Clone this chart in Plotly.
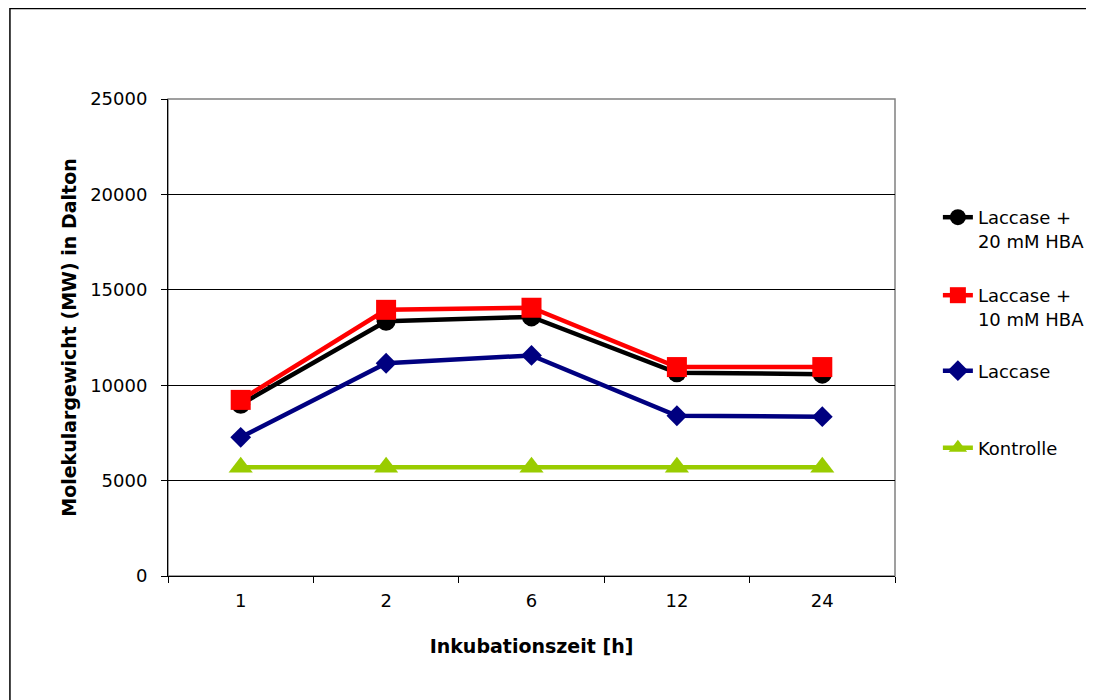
import plotly.graph_objects as go

categories = ["1", "2", "6", "12", "24"]
hba20 = [9000, 13350, 13580, 10650, 10580]
hba10 = [9230, 13950, 14060, 10950, 10950]
laccase = [7270, 11150, 11560, 8400, 8350]
kontrolle = [5700, 5700, 5700, 5700, 5700]

names = ["Laccase +<br>20 mM HBA", "Laccase +<br>10 mM HBA", "Laccase", "Kontrolle"]
colors = ["#000000", "#FF0000", "#000080", "#99CC00"]
symbols = ["circle", "square", "diamond", "triangle-up"]
sizes = [19, 20, 16, 21]
series = [hba20, hba10, laccase, kontrolle]
legends = ["legend", "legend2", "legend3", "legend4"]

FONT = "DejaVu Sans, Verdana, sans-serif"
FS = 18
FT = 19

fig = go.Figure()
for vals, nm, c, s, sz, lg in zip(series, names, colors, symbols, sizes, legends):
    fig.add_trace(go.Scatter(
        x=categories, y=vals, name=nm, mode="lines+markers",
        line=dict(color=c, width=4.5),
        marker=dict(color=c, symbol=s, size=sz, line=dict(width=0)),
        legend=lg, showlegend=True,
    ))

OFF = 8  # page body margin
W, H = 1094, 700
PL, PR, PT, PB = 168, 897, 99, 576  # plot area in screen px
L = PL - OFF
T = PT - OFF
pw = PR - PL
ph = PB - PT
R = W - L - pw
B = H - T - ph

def px2x(px):
    return (px - PL) / pw

def py2y(py):
    return (PB - py) / ph

leg_x = px2x(940)
leg_common = dict(x=leg_x, xanchor="left", yanchor="middle", valign="top",
                  bgcolor="rgba(0,0,0,0)", borderwidth=0,
                  font=dict(family=FONT, size=FS, color="#000000"))

fig.update_layout(
    width=W, height=H,
    margin=dict(l=L, r=R, t=T, b=B),
    paper_bgcolor="white", plot_bgcolor="white",
    showlegend=True,
    font=dict(family=FONT, size=FS, color="#000000"),
    legend=dict(y=py2y(229), **leg_common),
    legend2=dict(y=py2y(307), **leg_common),
    legend3=dict(y=py2y(371), **leg_common),
    legend4=dict(y=py2y(448), **leg_common),
    xaxis=dict(
        type="category", range=[-0.5, 4.5], tickson="boundaries",
        ticks="outside", ticklen=6, tickcolor="#000000",
        showline=True, linecolor="#000000", linewidth=1,
        showgrid=False, zeroline=False,
        tickfont=dict(family=FONT, size=FS),
        ticklabelstandoff=8,
        title=dict(text="<b>Inkubationszeit [h]</b>", font=dict(family=FONT, size=FT), standoff=30),
    ),
    yaxis=dict(
        range=[0, 25000], dtick=5000, tick0=0, tickformat="d",
        ticks="outside", ticklen=6, tickcolor="#000000",
        showline=True, linecolor="#000000", linewidth=1,
        showgrid=True, gridcolor="#000000", gridwidth=1,
        zeroline=False,
        tickfont=dict(family=FONT, size=FS),
        ticklabelstandoff=10,
        title=dict(text="<b>Molekulargewicht (MW) in Dalton</b>", font=dict(family=FONT, size=FT), standoff=8),
    ),
    shapes=[
        dict(type="rect", xref="paper", yref="paper", x0=0, x1=1, y0=0, y1=1,
             line=dict(color="#808080", width=1.5), layer="below"),
        dict(type="rect", xref="paper", yref="paper",
             x0=px2x(9.5), x1=px2x(1110), y0=py2y(720), y1=py2y(8.5),
             line=dict(color="#000000", width=1.5), layer="below"),
    ],
)

fig.write_html("out.html")
